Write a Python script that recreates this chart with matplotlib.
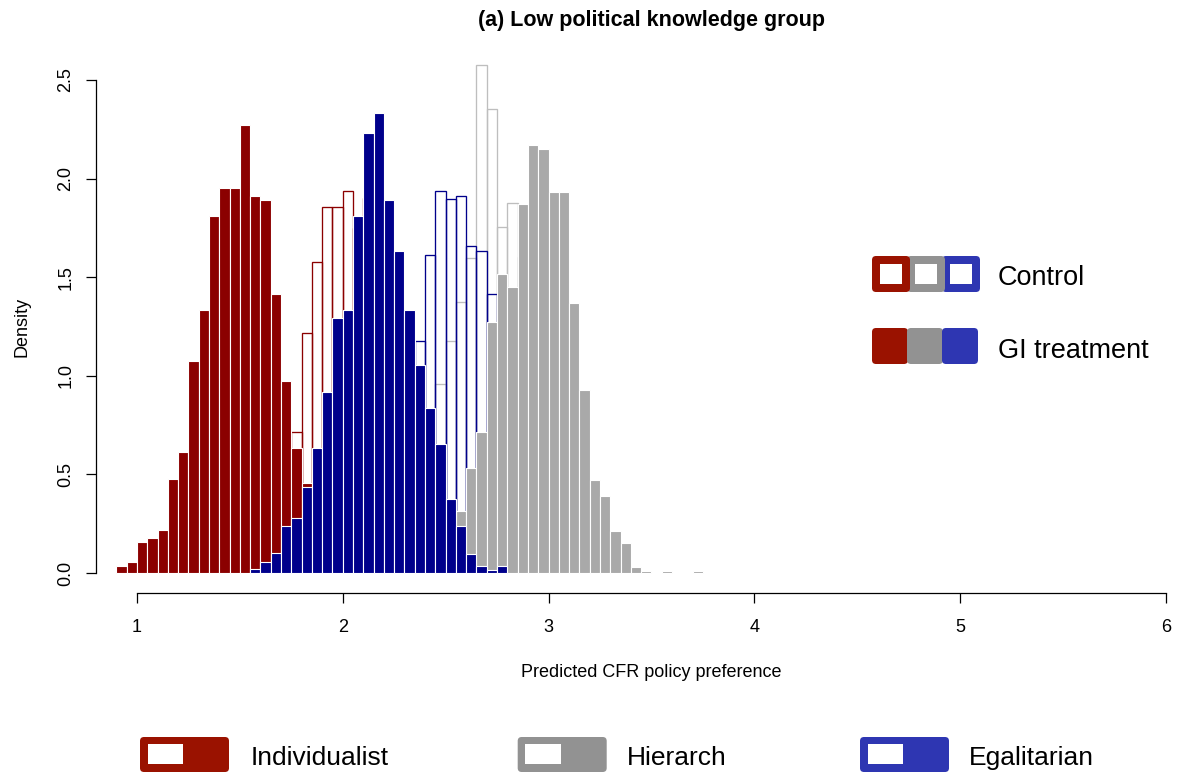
import matplotlib
matplotlib.use('Agg')
import matplotlib.pyplot as plt
import numpy as np
from matplotlib.patches import FancyBboxPatch, Rectangle

plt.rcParams['font.family'] = ['Liberation Sans', 'DejaVu Sans']

BIN_WIDTH = 0.05

# Densities for 0.05-wide bins; each series lists its first bin edge
indiv_ctrl_start = 1.45
indiv_ctrl = [0.04, 0.08, 0.12, 0.20, 0.35, 0.60, 0.717, 1.219, 1.576, 1.858, 1.858,
              1.937, 1.75, 1.90, 1.70, 1.40, 1.00, 0.60, 0.30, 0.15, 0.05]

hier_ctrl_start = 2.30
hier_ctrl = [0.15, 0.30, 0.50, 0.956, 1.176, 1.375, 1.596, 2.575, 2.353, 1.756, 1.874,
             1.60, 1.30, 1.00, 0.70, 0.40, 0.20, 0.10]

egal_ctrl_start = 2.05
egal_ctrl = [0.10, 0.25, 0.40, 0.60, 0.80, 1.00, 1.178, 1.615, 1.936, 1.896, 1.914,
             1.656, 1.635, 1.417, 1.20, 0.90, 0.60, 0.35, 0.15, 0.05]

indiv_gi_start = 0.90
indiv_gi = [0.035, 0.056, 0.156, 0.176, 0.216, 0.477, 0.615, 1.073, 1.334, 1.812, 1.951,
            1.951, 2.272, 1.912, 1.891, 1.413, 0.974, 0.636, 0.455, 0.30, 0.15, 0.08]

hier_gi_start = 2.45
hier_gi = [0.10, 0.25, 0.314, 0.534, 0.714, 1.274, 1.514, 1.452, 1.871, 2.170, 2.149,
           1.931, 1.931, 1.371, 0.930, 0.472, 0.391, 0.215, 0.151, 0.031, 0.012, 0.0,
           0.012, 0.0, 0.0, 0.012]

egal_gi_start = 1.55
egal_gi = [0.019, 0.057, 0.099, 0.238, 0.281, 0.438, 0.636, 0.916, 1.295, 1.334, 1.812,
           2.231, 2.331, 1.891, 1.633, 1.334, 1.055, 0.836, 0.656, 0.375, 0.238, 0.096,
           0.037, 0.015, 0.034]

groups = ['Individualist', 'Hierarch', 'Egalitarian']
conditions = ['Control', 'GI treatment']
x_ticks = [1, 2, 3, 4, 5, 6]
y_ticks = [0.0, 0.5, 1.0, 1.5, 2.0, 2.5]

BAR_COLORS = ['#8B0000', '#A9A9A9', '#00008B']
CTRL_EDGES = ['#8B0000', '#BEBEBE', '#00008B']
KEY_COLORS = ['#9A1200', '#929292', '#2E36B2']

W, H = 1177, 775


def draw_hist(ax, start, dens, color, filled):
    dens = np.asarray(dens, dtype=float)
    lefts = np.round(start + BIN_WIDTH * np.arange(len(dens)), 2)
    keep = dens > 0
    if filled:
        ax.bar(lefts[keep], dens[keep], width=BIN_WIDTH, align='edge',
               color=color, edgecolor='white', linewidth=0.8)
    else:
        bars = ax.bar(lefts[keep], dens[keep], width=BIN_WIDTH, align='edge',
                      facecolor='none', edgecolor=color, linewidth=0.95)
        # keep the outline's bottom edge from bleeding under the baseline
        clip = Rectangle((0.8, 0), 5.4, 2.6, transform=ax.transData)
        for b in bars:
            b.set_clip_path(clip)


def key_box(lax, x0, y0, x1, y1, color, hole=None):
    lax.add_patch(FancyBboxPatch((x0, y0), x1 - x0, y1 - y0,
                                 boxstyle='round,pad=0,rounding_size=4',
                                 facecolor=color, edgecolor='none'))
    if hole is not None:
        hx0, hy0, hx1, hy1 = hole
        lax.add_patch(Rectangle((hx0, hy0), hx1 - hx0, hy1 - hy0,
                                facecolor='white', edgecolor='none'))


def main():
    fig = plt.figure(figsize=(W / 100, H / 100), dpi=100)

    # plot region in pixels: x 0.8..6.2 and y -0.1..2.6 like R's 4% padding
    left, right, top, bottom = 95.8, 1207.0, 60.3, 592.7
    ax = fig.add_axes([left / W, 1 - bottom / H, (right - left) / W, (bottom - top) / H])
    ax.set_xlim(0.8, 6.2)
    ax.set_ylim(-0.1, 2.6)

    ctrl = [(indiv_ctrl_start, indiv_ctrl), (hier_ctrl_start, hier_ctrl),
            (egal_ctrl_start, egal_ctrl)]
    gi = [(indiv_gi_start, indiv_gi), (hier_gi_start, hier_gi),
          (egal_gi_start, egal_gi)]
    for (start, dens), col in zip(ctrl, CTRL_EDGES):
        draw_hist(ax, start, dens, col, filled=False)
    for (start, dens), col in zip(gi, BAR_COLORS):
        draw_hist(ax, start, dens, col, filled=True)

    for side in ['top', 'right']:
        ax.spines[side].set_visible(False)
    ax.spines['bottom'].set_bounds(1, 6)
    ax.spines['left'].set_bounds(0, 2.5)
    for side in ['bottom', 'left']:
        ax.spines[side].set_linewidth(0.9)

    ax.set_xticks(x_ticks, labels=[str(t) for t in x_ticks])
    ax.set_yticks(y_ticks, labels=['%.1f' % t for t in y_ticks],
                  rotation=90, va='center')
    ax.tick_params(axis='x', length=7.0, width=0.9, labelsize=13, pad=12.0)
    ax.tick_params(axis='y', length=7.0, width=0.9, labelsize=13, pad=8.6)
    ax.patch.set_visible(False)

    # overlay in pixel coordinates for titles and keys
    lax = fig.add_axes([0, 0, 1, 1], zorder=5)
    lax.set_xlim(0, W)
    lax.set_ylim(H, 0)
    lax.axis('off')
    lax.patch.set_visible(False)

    lax.text(651.4, 26, '(a) Low political knowledge group', ha='center',
             va='baseline', fontsize=15.5, fontweight='bold')
    lax.text(651.4, 677, 'Predicted CFR policy preference', ha='center',
             va='baseline', fontsize=13)
    lax.text(26.7, 326.5, 'Density', ha='center', va='baseline', rotation=90,
             rotation_mode='anchor', fontsize=13)

    # Control / GI treatment key
    for i in [2, 1, 0]:
        cx = 891 + 35 * i
        key_box(lax, cx - 19, 256, cx + 19, 292, KEY_COLORS[i],
                hole=(cx - 11, 264, cx + 11, 284))
    for i in [0, 1, 2]:
        cx = 890 + 35 * i
        key_box(lax, cx - 18, 328, cx + 18, 364, KEY_COLORS[i])
    lax.text(998, 285, conditions[0], ha='left', va='baseline', fontsize=19.5)
    lax.text(998, 358, conditions[1], ha='left', va='baseline', fontsize=19.5)

    # group key along the bottom
    key_x = [140, 517.7, 860]
    text_x = [251, 627, 969]
    for gx, tx, name, col in zip(key_x, text_x, groups, KEY_COLORS):
        key_box(lax, gx, 737, gx + 89, 772, col,
                hole=(gx + 7.7, 744, gx + 43.3, 764.3))
        lax.text(tx, 765, name, ha='left', va='baseline', fontsize=19)

    fig.savefig('out.png', dpi=100)
    plt.close(fig)


if __name__ == "__main__":
    main()
